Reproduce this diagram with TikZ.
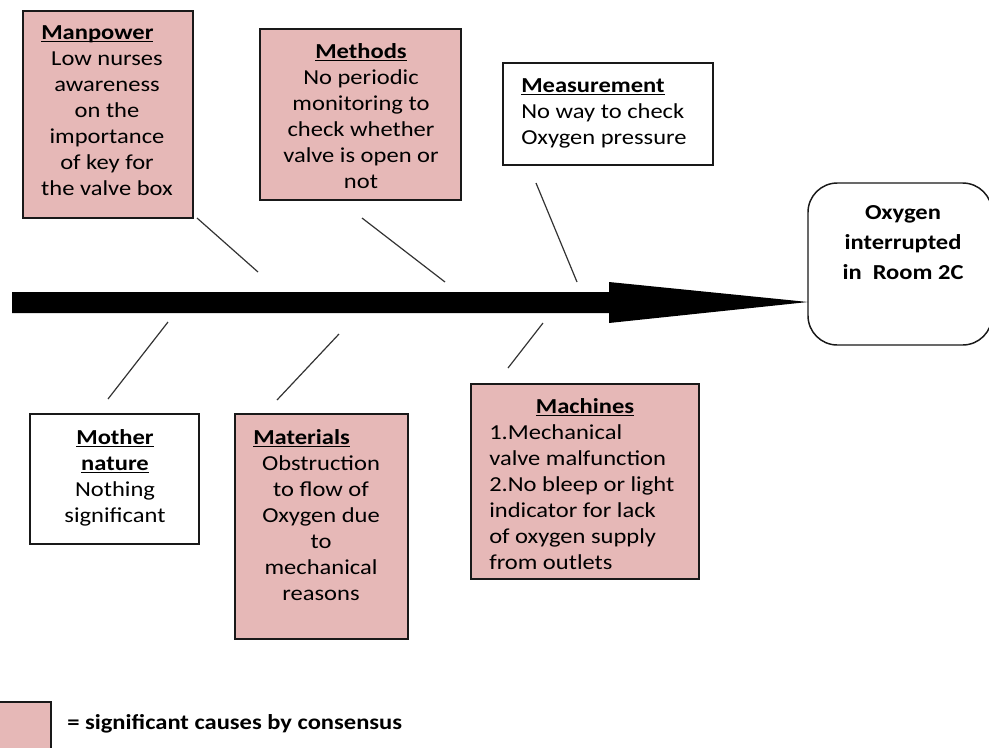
\documentclass[tikz,border=0pt]{standalone}
\usepackage{fontspec}
\setmainfont{Carlito}[FakeStretch=1.15]
\usetikzlibrary{fit}
\definecolor{pinkfill}{HTML}{E6B8B7}
\newcommand\bodyfont{\fontsize{16pt}{19.5pt}\selectfont}
\newcommand\myul[1]{\setbox0\hbox{#1}\rlap{\rule[-2.2pt]{\wd0}{0.9pt}}\box0}
\begin{document}
\begin{tikzpicture}[x=0.75pt,y=-0.75pt]
\tikzset{
  cbox/.style={draw=black!90, line width=1.4pt, inner sep=0pt},
  sig/.style={cbox, fill=pinkfill},
  plain/.style={cbox, fill=white},
  bone/.style={draw=black!80, line width=0.9pt},
  txt/.style={anchor=base, inner sep=0pt, font=\bodyfont},
  ltxt/.style={anchor=base west, inner sep=0pt, font=\bodyfont},
  btxt/.style={anchor=base, inner sep=0pt, font=\bodyfont\bfseries},
}
\useasboundingbox (0,0) rectangle (989,747);

% boxes
\node[sig, fit={(23,11)(193,218)}] (manpower) {};
\node[sig, fit={(260,29)(461,200)}] (methods) {};
\node[plain, fit={(503,63)(713,165)}] (measure) {};
\node[plain, fit={(30,414)(199,544)}] (mother) {};
\node[sig, fit={(235,414)(408,639)}] (materials) {};
\node[sig, fit={(471,384)(699,579)}] (machines) {};
\node[draw=black!90, line width=1.1pt, rounded corners=22pt, fill=white, inner sep=0pt, fit={(808,183)(992,345)}] (result) {};
\node[sig, fit={(-5,702)(51,752)}] (legendbox) {};

% spine arrow
\coordinate (tail) at (12,302.5);
\coordinate (tip) at (808,302);
\fill[black] (tail) ++(0,-10.5) -- (609,292) -- (609,282) -- (tip) -- (609,323) -- (609,313) -- (12,313) -- cycle;

% bones
\coordinate (b1a) at (197,218); \coordinate (b1b) at (258,272);
\coordinate (b2a) at (362,218); \coordinate (b2b) at (445,282);
\coordinate (b3a) at (536,183); \coordinate (b3b) at (577,282);
\coordinate (b4a) at (168,322); \coordinate (b4b) at (108,399);
\coordinate (b5a) at (339,334); \coordinate (b5b) at (277,400);
\coordinate (b6a) at (543,323); \coordinate (b6b) at (508,368);
\draw[bone] (b1a) -- (b1b);
\draw[bone] (b2a) -- (b2b);
\draw[bone] (b3a) -- (b3b);
\draw[bone] (b4a) -- (b4b);
\draw[bone] (b5a) -- (b5b);
\draw[bone] (b6a) -- (b6b);

% Manpower
\node[ltxt, font=\bodyfont\bfseries] (mpH) at (41,39) {\myul{Manpower}};
\foreach \t [count=\i] in {Low nurses,awareness,on the,importance,of key for,the valve box}
  \node[txt] (mpL\i) at (107,{39+26*\i}) {\t};

% Methods
\node[btxt] (meH) at (361,58) {\myul{Methods}};
\foreach \t [count=\i] in {No periodic,monitoring to,check whether,valve is open or,not}
  \node[txt] (meL\i) at (361,{58+26*\i}) {\t};

% Measurement
\node[ltxt, font=\bodyfont\bfseries] (msH) at (521,92) {\myul{Measurement}};
\node[ltxt] (msL1) at (521,118) {No way to check};
\node[ltxt] (msL2) at (521,144) {Oxygen pressure};

% Result
\node[btxt] (r1) at (903,219) {Oxygen};
\node[btxt] (r2) at (903,249) {interrupted};
\node[btxt] (r3) at (903,279) {in\ \ Room 2C};

% Mother nature
\node[btxt] (moH1) at (115,444) {\myul{Mother}};
\node[btxt] (moH2) at (115,470) {\myul{nature}};
\node[txt] (moL1) at (115,496) {Nothing};
\node[txt] (moL2) at (115,522) {significant};

% Materials
\node[ltxt, font=\bodyfont\bfseries] (maH) at (253,444) {\myul{Materials}};
\foreach \t [count=\i] in {Obstruction,to flow of,Oxygen due,to,mechanical,reasons}
  \node[txt] (maL\i) at (321,{444+26*\i}) {\t};

% Machines
\node[btxt] (mcH) at (585,413) {\myul{Machines}};
\foreach \t [count=\i] in {1.Mechanical,valve malfunction,2.No bleep or light,indicator for lack,of oxygen supply,from outlets}
  \node[ltxt] (mcL\i) at (489,{413+26*\i}) {\t};

% Legend
\node[anchor=base west, inner sep=0pt, font=\bodyfont\bfseries] (legendtxt) at (67,729) {= significant causes by consensus};
\end{tikzpicture}
\end{document}
